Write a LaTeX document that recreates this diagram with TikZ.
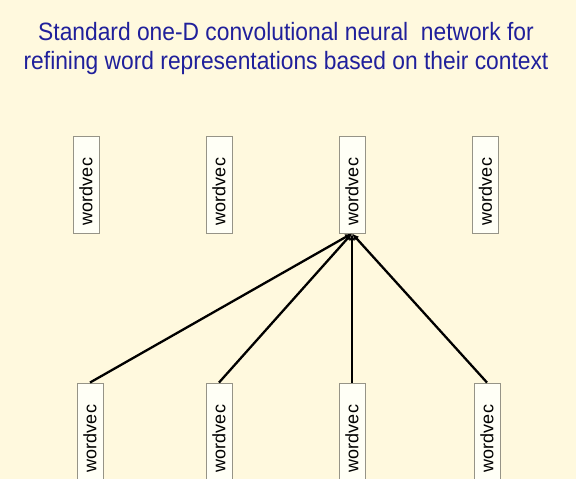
\documentclass[tikz,border=0pt]{standalone}
\usepackage{fontspec}
\setmainfont{Liberation Sans}
\usetikzlibrary{arrows.meta}
\definecolor{bgcol}{RGB}{255,249,222}
\definecolor{titlecol}{RGB}{32,32,155}
\definecolor{boxfill}{RGB}{255,255,246}
\definecolor{boxline}{RGB}{150,148,135}
\tikzset{
  wvbox/.style={draw=boxline, line width=0.9pt, fill=boxfill, rotate=90,
    minimum width=97pt, minimum height=26pt, inner sep=0pt,
    font=\fontsize{18}{18}\selectfont},
  conn/.style={line width=2.3pt, -{Latex[length=7pt,width=6pt]}},
  titletext/.style={text=titlecol, anchor=base, inner sep=0pt, yscale=1.1,
    font=\fontsize{22.8}{27}\selectfont}
}
\begin{document}
\begin{tikzpicture}[x=1pt,y=1pt]
\fill[bgcol] (0,0) rectangle (576,479);
\useasboundingbox (0,0) rectangle (576,479);
\node[titletext] (t1) at (286,438) {Standard one-D convolutional neural\ \ network for};
\node[titletext] (t2) at (286,409) {refining word representations based on their context};
% top row
\node[wvbox] (a1) at (86,294.5) {wordvec\hspace*{14pt}};
\node[wvbox] (a2) at (219,294.5) {wordvec\hspace*{14pt}};
\node[wvbox] (a3) at (352,294.5) {wordvec\hspace*{14pt}};
\node[wvbox] (a4) at (485.5,294.5) {wordvec\hspace*{14pt}};
% bottom row
\node[wvbox] (b1) at (90,47.5) {wordvec\hspace*{14pt}};
\node[wvbox] (b2) at (219,47.5) {wordvec\hspace*{14pt}};
\node[wvbox] (b3) at (352,47.5) {wordvec\hspace*{14pt}};
\node[wvbox] (b4) at (487,47.5) {wordvec\hspace*{14pt}};
% connectors
\draw[conn] (b1.east) -- (a3.west);
\draw[conn] (b2.east) -- (a3.west);
\draw[conn] (b3.east) -- (a3.west);
\draw[conn] (b4.east) -- (a3.west);
\end{tikzpicture}
\end{document}
